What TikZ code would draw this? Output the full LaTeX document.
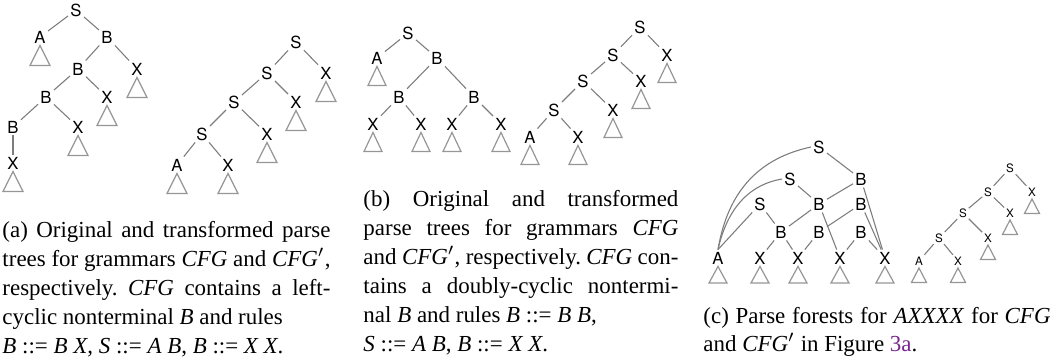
\documentclass[tikz,border=0pt]{standalone}
\usepackage{fontspec}
\setmainfont{Liberation Serif}
\newfontfamily\treefont{TeX Gyre Heros}
\usetikzlibrary{calc}
\definecolor{acmpurple}{RGB}{120,40,140}
\definecolor{edgegray}{RGB}{125,125,125}
\definecolor{leafgray}{RGB}{150,150,150}
\tikzset{
  lab/.style={font=\treefont\fontsize{6.9}{7}\selectfont, inner sep=0.8pt, text height=5pt, text depth=0pt},
  labsmall/.style={lab, font=\treefont\fontsize{4.8}{5}\selectfont, text height=3.5pt, inner sep=0.6pt},
  edge/.style={draw=edgegray, line width=0.45pt},
  leaf/.style={draw=leafgray, line width=0.5pt},
  captext/.style={inner sep=0pt, anchor=base west, font=\fontsize{9.5}{12}\selectfont}
}
\newcommand\capbox[2]{\parbox[t]{#1}{\frenchspacing\tolerance=10000\hbadness=10000
  \hyphenpenalty=10000\exhyphenpenalty=10000 #2}}
\def\triTop{8.5}
\def\triHalf{10}
\def\triHeight{20}
\def\tri#1{\draw[leaf] ($(#1)+(0,\triTop)$) -- ++(-\triHalf,\triHeight) -- ++(2*\triHalf,0) -- cycle;}

\begin{document}
\begin{tikzpicture}[x=0.414pt, y=-0.414pt]
\useasboundingbox (0,0) rectangle (1062,363);

\foreach \n/\x/\y/\t in {alS/76/10/S, alA/40/37/A, alB1/107/37/B, alB2/78/69/B,
    alX1/137/69/X, alB3/46/97/B, alX2/107/97/X, alB4/13/127/B, alX3/78/127/X, alX4/13/163/X,
    arS1/296/42/S, arS2/267/73/S, arX1/326/73/X, arS3/234/102/S, arX2/296/102/X,
    arS4/202/134/S, arX3/267/134/X, arA/177/165/A, arX4/228/165/X}
  \node[lab] (\n) at (\x,\y) {\t};
\foreach \a/\b in {alS/alA, alS/alB1, alB1/alB2, alB1/alX1, alB2/alB3, alB2/alX2,
    alB3/alB4, alB3/alX3, alB4/alX4,
    arS1/arS2, arS1/arX1, arS2/arS3, arS2/arX2, arS3/arS4, arS3/arX3, arS4/arA, arS4/arX4}
  \draw[edge] (\a) -- (\b);
\foreach \n in {alA, alX1, alX2, alX3, alX4, arX1, arX2, arX3, arA, arX4}
  {\tri{\n}}

\def\triHalf{9}
\def\triHeight{19}
\foreach \n/\x/\y/\t in {blS/408/33/S, blA/377/58/A, blB1/437/58/B, blB2/399/97/B,
    blB3/474/97/B, blX1/373/124/X, blX2/421/124/X, blX3/452/124/X, blX4/501/124/X,
    brS1/640/27/S, brS2/613/55/S, brX1/667/55/X, brS3/583/81/S, brX2/641/81/X,
    brS4/554/110/S, brX3/613/110/X, brA/530/137/A, brX4/578/137/X}
  \node[lab] (\n) at (\x,\y) {\t};
\foreach \a/\b in {blS/blA, blS/blB1, blB1/blB2, blB1/blB3, blB2/blX1, blB2/blX2,
    blB3/blX3, blB3/blX4,
    brS1/brS2, brS1/brX1, brS2/brS3, brS2/brX2, brS3/brS4, brS3/brX3, brS4/brA, brS4/brX4}
  \draw[edge] (\a) -- (\b);
\foreach \n in {blA, blX1, blX2, blX3, blX4, brX1, brX2, brX3, brA, brX4}
  {\tri{\n}}

\def\triHeight{16.5}
\foreach \n/\x/\y/\t in {cfS1/819/147/S, cfS2/790/179/S, cfB1/861/179/B, cfS3/760/204/S,
    cfB2/819/204/B, cfB3/861/204/B, cfB4/781/232/B, cfB5/819/232/B, cfB6/861/232/B,
    cfA/718/258/A, cfX1/760/258/X, cfX2/798/258/X, cfX3/840/258/X, cfX4/885/258/X}
  \node[lab] (\n) at (\x,\y) {\t};
\foreach \a/\b in {cfS1/cfB1, cfS2/cfB2, cfS3/cfB4, cfB1/cfB2, cfB1/cfX4, cfB2/cfB4,
    cfB2/cfX3, cfB3/cfB5, cfB3/cfX4, cfB4/cfX1, cfB4/cfX2, cfB5/cfX2, cfB6/cfX3, cfB6/cfX4}
  \draw[edge] (\a) -- (\b);
\draw[edge] (cfS1.west) .. controls (760,158) and (728,190) .. (cfA.north);
\draw[edge] (cfS2.west) .. controls (752,184) and (728,205) .. (cfA.north);
\draw[edge] (cfS3) -- (cfA.north);
\foreach \n in {cfA, cfX1, cfX2, cfX3, cfX4}
  {\tri{\n}}

\def\triTop{7}
\def\triHalf{7.5}
\def\triHeight{14.5}
\foreach \n/\x/\y/\t in {csS1/1010/168/S, csS2/988/192/S, csX1/1032/192/X, csS3/963/213/S,
    csX2/1010/213/X, csS4/939/238/S, csX3/988/238/X, csA/919/261/A, csX4/958/261/X}
  \node[labsmall] (\n) at (\x,\y) {\t};
\foreach \a/\b in {csS1/csS2, csS1/csX1, csS2/csS3, csS2/csX2, csS3/csS4, csS3/csX3,
    csS4/csA, csS4/csX4}
  \draw[edge] (\a) -- (\b);
\foreach \n in {csX1, csX2, csX3, csA, csX4}
  {\tri{\n}}

\node[captext] (capa) at (2,238) {\capbox{135.8pt}{(a) Original and transformed parse\linebreak
  trees for grammars \textit{CFG} and \textit{CFG}$'$,\linebreak
  respectively. \textit{CFG} contains a left-\linebreak
  cyclic nonterminal \textit{B} and rules\newline
  \textit{B} ::= \textit{B X}, \textit{S} ::= \textit{A B}, \textit{B} ::= \textit{X X}.}};
\node[captext] (capb) at (363,206.7) {\capbox{130.4pt}{(b) Original and transformed\linebreak
  parse trees for grammars \textit{CFG}\linebreak
  and \textit{CFG}$'$, respectively. \textit{CFG} con-\linebreak
  tains a doubly-cyclic nontermi-\linebreak
  nal \textit{B} and rules \textit{B} ::= \textit{B B},\newline
  \textit{S} ::= \textit{A B}, \textit{B} ::= \textit{X X}.}};
\node[captext] (capc) at (703,323) {\capbox{143.7pt}{(c) Parse forests for \textit{AXXXX} for \textit{CFG}\linebreak
  and \textit{CFG}$'$ in Figure \textcolor{acmpurple}{3a}.}};
\end{tikzpicture}
\end{document}
